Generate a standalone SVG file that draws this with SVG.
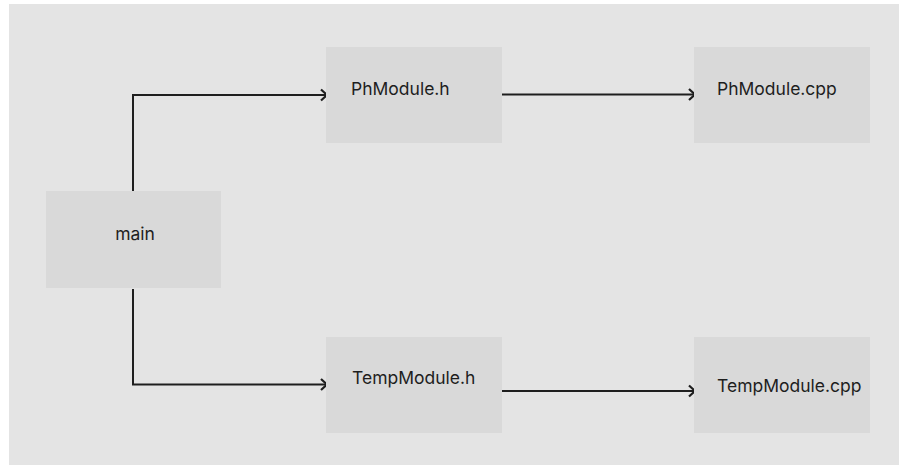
<svg xmlns="http://www.w3.org/2000/svg" width="899" height="465" viewBox="0 0 899 465">
<defs>
<style>
.box{fill:#d9d9d9}
.lbl{font-family:Inter,"Liberation Sans",sans-serif;font-size:17.5px;fill:#1e1e1e}
.edge{fill:none;stroke:#1e1e1e;stroke-width:2}
</style>
<marker id="arr" viewBox="0 0 12 14" refX="10" refY="7" markerWidth="12" markerHeight="14" markerUnits="userSpaceOnUse" orient="auto">
<path d="M4,1.5 L10,7 L4,12.5" fill="none" stroke="#1e1e1e" stroke-width="2.2"/>
</marker>
</defs>
<rect x="0" y="0" width="899" height="465" fill="#ffffff"/>
<rect x="9" y="4" width="890" height="461" fill="#e4e4e4"/>
<g id="connectors">
<path class="edge" d="M133,191 V95 H327" marker-end="url(#arr)"/>
<path class="edge" d="M133,289 V384.5 H327" marker-end="url(#arr)"/>
<path class="edge" d="M502,94.5 H695" marker-end="url(#arr)"/>
<path class="edge" d="M502,391 H695" marker-end="url(#arr)"/>
</g>
<g id="main"><rect class="box" x="46" y="191" width="175" height="97"/><text class="lbl" x="135" y="240" text-anchor="middle">main</text></g>
<g id="phmodule-h"><rect class="box" x="326" y="47" width="176" height="96"/><text class="lbl" x="351" y="95">PhModule.h</text></g>
<g id="phmodule-cpp"><rect class="box" x="694" y="47" width="176" height="96"/><text class="lbl" x="717" y="95">PhModule.cpp</text></g>
<g id="tempmodule-h"><rect class="box" x="326" y="337" width="176" height="96"/><text class="lbl" x="352" y="384">TempModule.h</text></g>
<g id="tempmodule-cpp"><rect class="box" x="694" y="337" width="176" height="96"/><text class="lbl" x="717" y="392">TempModule.cpp</text></g>
</svg>
